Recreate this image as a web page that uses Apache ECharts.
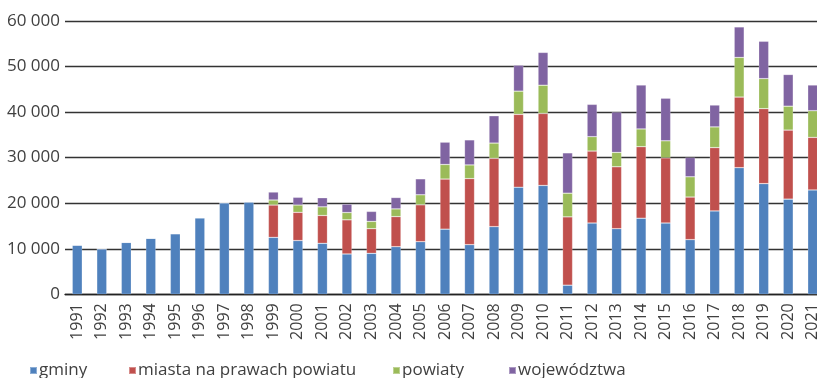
<!DOCTYPE html>
<html>
<head>
<meta charset="utf-8">
<script src="https://cdn.jsdelivr.net/npm/echarts@6/dist/echarts.min.js"></script>
<style>
  html, body { margin: 0; padding: 0; background: #fff; }
  #chart { width: 817px; height: 378px; }
</style>
</head>
<body>
<div id="chart"></div>
<script>
// Years on the category axis
const years = ['1991','1992','1993','1994','1995','1996','1997','1998','1999','2000',
  '2001','2002','2003','2004','2005','2006','2007','2008','2009','2010',
  '2011','2012','2013','2014','2015','2016','2017','2018','2019','2020','2021'];

// Stacked components per year
const gminy = [10800, 10000, 11400, 12300, 13300, 16800, 20100, 20300, 12500, 11800,
  11200, 8850, 9000, 10450, 11550, 14300, 10900, 14850, 23500, 23900,
  2000, 15650, 14400, 16700, 15650, 12000, 18300, 27800, 24300, 20900, 22900];
const miasta = [0, 0, 0, 0, 0, 0, 0, 0, 7100, 6200,
  6100, 7500, 5400, 6600, 8100, 11000, 14500, 15000, 16000, 15800,
  15000, 15800, 13600, 15700, 14300, 9350, 13900, 15500, 16450, 15150, 11550];
const powiaty = [0, 0, 0, 0, 0, 0, 0, 0, 1100, 1600,
  1900, 1600, 1600, 1700, 2200, 3200, 3000, 3350, 5100, 6200,
  5200, 3150, 3150, 3900, 3750, 4450, 4550, 8700, 6600, 5250, 5850];
const wojewodztwa = [0, 0, 0, 0, 0, 0, 0, 0, 1750, 1700,
  2000, 1850, 2200, 2500, 3500, 4900, 5500, 6000, 5700, 7200,
  8850, 7100, 8850, 9650, 9350, 4250, 4800, 6700, 8200, 6950, 5650];

const seriesNames = ['gminy', 'miasta na prawach powiatu', 'powiaty', 'województwa'];
const seriesData = [gminy, miasta, powiaty, wojewodztwa];
const colors = ['#4F81BD', '#C0504D', '#9BBB59', '#8064A2'];

const font = "'Open Sans', sans-serif";
const legendLeft = [29, 128, 392, 508];

const chart = echarts.init(document.getElementById('chart'), null, { renderer: 'canvas' });

chart.setOption({
  animation: false,
  color: colors,
  grid: {
    left: 65, top: 21, width: 760, height: 273.3,
    containLabel: false,
    outerBoundsMode: 'none'
  },
  legend: seriesNames.map((name, i) => ({
    data: [name],
    left: legendLeft[i],
    top: 362,
    padding: 0,
    itemWidth: 7,
    itemHeight: 7,
    itemGap: 0,
    icon: 'rect',
    selectedMode: false,
    textStyle: { fontFamily: font, fontSize: 17, color: '#404040', padding: [0, 0, 0, -3] }
  })),
  xAxis: {
    type: 'category',
    data: years,
    axisLine: { lineStyle: { color: '#222', width: 1.3 } },
    axisTick: { show: false },
    axisLabel: {
      rotate: 90,
      interval: 0,
      margin: 9,
      fontFamily: font,
      fontSize: 16,
      color: '#404040'
    }
  },
  yAxis: {
    type: 'value',
    min: 0,
    max: 60000,
    interval: 10000,
    axisLine: { show: false },
    axisTick: { show: false },
    splitLine: { lineStyle: { color: '#333', width: 1.3 } },
    axisLabel: {
      margin: 5,
      fontFamily: font,
      fontSize: 17,
      color: '#404040',
      formatter: v => String(v).replace(/\B(?=(\d{3})+(?!\d))/g, ' ')
    }
  },
  series: seriesNames.map((name, i) => ({
    name: name,
    type: 'bar',
    stack: 'total',
    barWidth: 10,
    data: seriesData[i],
    itemStyle: { borderColor: 'rgba(255,255,255,0.35)', borderWidth: 0.6 }
  }))
});
</script>
</body>
</html>
